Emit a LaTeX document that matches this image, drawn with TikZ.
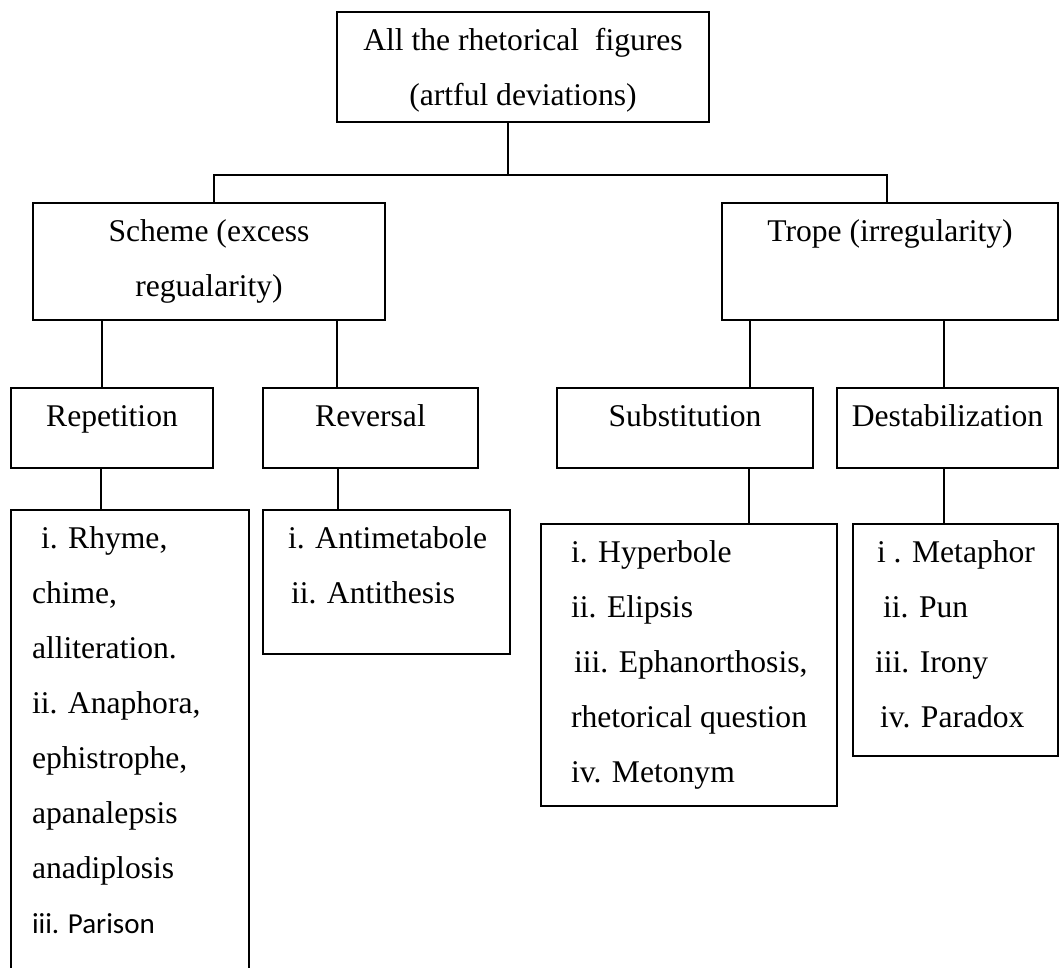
\documentclass[tikz,border=0pt]{standalone}
\usepackage{fontspec}
\setmainfont{Liberation Serif}
\newfontfamily\calibri{Carlito}
\usepackage{tikz}
\usetikzlibrary{positioning,calc}

% box contents: width, height, text (lines start at the top)
\newcommand{\boxbody}[3]{\begin{minipage}[t][#2][t]{#1}\fontsize{31.6}{55}\selectfont\centering\strut #3\end{minipage}}
\newcommand{\listbody}[4]{\begin{minipage}[t][#2][t]{#1}\fontsize{31.6}{55}\selectfont\raggedright\leftskip=#3\strut #4\end{minipage}}

\begin{document}
\begin{tikzpicture}[x=1pt,y=-1pt,line width=1.5pt]
\tikzstyle{box}=[draw,line width=2pt,inner sep=0pt,anchor=north west]
\useasboundingbox (0,0) rectangle (1059,967);

\node[box] (top)    at (336,11)  {\boxbody{372pt}{110pt}{All the rhetorical\ \ figures\\(artful deviations)}};
\node[box] (scheme) at (32,202)  {\boxbody{352pt}{117pt}{Scheme (excess\\regualarity)}};
\node[box] (trope)  at (721,202) {\boxbody{336pt}{117pt}{Trope (irregularity)}};

\node[box] (rep) at (10,387)  {\boxbody{202pt}{80pt}{Repetition}};
\node[box] (rev) at (262,387) {\boxbody{215pt}{80pt}{Reversal}};
\node[box] (sub) at (556,387) {\boxbody{256pt}{80pt}{Substitution}};
\node[box] (des) at (836,387) {\boxbody{221pt}{80pt}{Destabilization}};

\node[box] (replist) at (10,509) {\listbody{238pt}{491pt}{21pt}{\hspace*{9pt}i. Rhyme,\\chime,\\alliteration.\\ii. Anaphora,\\ephistrophe,\\apanalepsis\\anadiplosis\\{\calibri\fontsize{29}{55}\selectfont iii. Parison}}};
\node[box] (revlist) at (262,509) {\listbody{247pt}{144pt}{25pt}{i. Antimetabole\\\hspace*{3pt}ii. Antithesis}};
\node[box] (sublist) at (540,523) {\listbody{296pt}{282pt}{30pt}{i. Hyperbole\\ii. Elipsis\\\hspace*{3pt}iii. Ephanorthosis,\\rhetorical question\\iv. Metonym}};
\node[box] (deslist) at (852,523) {\listbody{205pt}{232pt}{22pt}{\hspace*{2pt}i . Metaphor\\\hspace*{8pt}ii. Pun\\iii. Irony\\\hspace*{5pt}iv. Paradox}};

% connectors
\draw ([xshift=-15pt]top.south) -- ++(0,52) coordinate (bus);
\draw ([xshift=5pt]scheme.north) |- (bus) -| ([xshift=-3pt]trope.north);

\draw ([xshift=-10pt]rep.north) -- ([xshift=-10pt]rep.north |- scheme.south);
\draw ([xshift=-33.5pt]rev.north) -- ([xshift=-33.5pt]rev.north |- scheme.south);
\draw ([xshift=65pt]sub.north) -- ([xshift=65pt]sub.north |- trope.south);
\draw ([xshift=-3.5pt]des.north) -- ([xshift=-3.5pt]des.north |- trope.south);

\draw ([xshift=-11pt]rep.south) -- ([xshift=-11pt]rep.south |- replist.north);
\draw ([xshift=-32.5pt]rev.south) -- ([xshift=-32.5pt]rev.south |- revlist.north);
\draw ([xshift=64pt]sub.south) -- ([xshift=64pt]sub.south |- sublist.north);
\draw ([xshift=-3.5pt]des.south) -- ([xshift=-3.5pt]des.south |- deslist.north);
\end{tikzpicture}
\end{document}
